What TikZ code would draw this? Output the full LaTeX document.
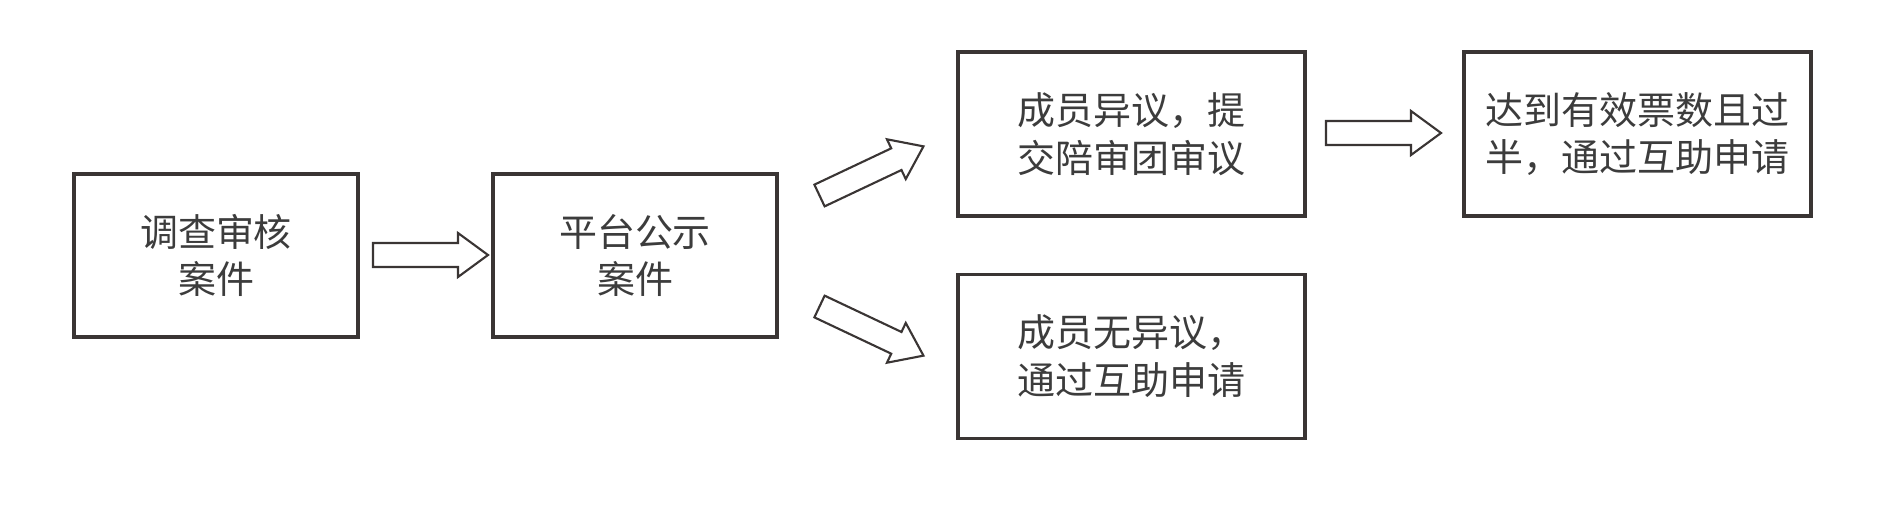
\documentclass[tikz,border=0pt]{standalone}
\usepackage{fontspec}
\newfontfamily\cjk{Noto Sans CJK SC}
\definecolor{ln}{HTML}{3A3534}
\definecolor{tx}{HTML}{3C3C3C}
\begin{document}
\begin{tikzpicture}[x=0.01cm,y=-0.01cm,
  box/.style={draw=ln,line width=1pt,rectangle,inner sep=0pt,align=center,
    text=tx,font=\cjk\fontsize{10.8}{13.6}\selectfont},
  smallbox/.style={box,minimum width=2.84cm,minimum height=1.63cm},
  bigbox/.style={box,minimum width=3.47cm,minimum height=1.64cm},
  barrow/.pic={\draw[draw=ln,fill=white,line width=0.6pt,line join=miter]
     (0,-12) -- (85,-12) -- (85,-22) -- (115,0) -- (85,22) -- (85,12) -- (0,12) -- cycle;}
]
\useasboundingbox (0,0) rectangle (1880,512);
\node[smallbox] (b1) at (216,255.5) {调查审核\\案件};
\node[smallbox] (b2) at (635,255.5) {平台公示\\案件};
\node[bigbox] (b3) at (1131.5,134) {成员异议，提\\交陪审团审议};
\node[bigbox] (b4) at (1131.5,356.5) {成员无异议，\\通过互助申请};
\node[bigbox] (b5) at (1637.5,134) {达到有效票数且过\\半，通过互助申请};
\coordinate (a1) at (373,255);
\coordinate (a2) at (819.5,195.5);
\coordinate (a3) at (819.5,306.5);
\coordinate (a4) at (1326,133);
\pic at (a1) {barrow};
\pic[rotate=25.3] at (a2) {barrow};
\pic[rotate=-25.3] at (a3) {barrow};
\pic at (a4) {barrow};
\end{tikzpicture}
\end{document}
